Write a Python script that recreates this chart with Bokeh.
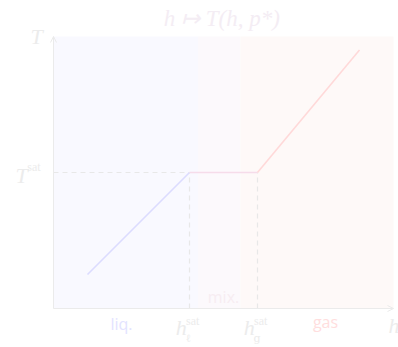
from bokeh.plotting import figure
from bokeh.models import Range1d, Arrow, OpenHead
from bokeh.core.properties import value
from bokeh.embed import file_html
from bokeh.resources import INLINE

# ---- data ----
h_sat_l = 4.0
h_sat_g = 6.0
T_sat = 4.0
h_max = 10.0
T_max = 8.0

h_liq = [1.0, h_sat_l]
T_liq = [1.0, T_sat]
h_mix = [h_sat_l, h_sat_g]
T_mix = [T_sat, T_sat]
h_gas = [h_sat_g, 9.0]
T_gas = [T_sat, 7.6]

band_left = [0.0, 4.25, 5.5]
band_right = [4.25, 5.5, h_max]
band_colors = ["#f9f9ff", "#fcf9fc", "#fef9f8"]

region_names = ["liq.", "mix.", "gas"]
region_centers = [h_sat_l / 2, (h_sat_l + h_sat_g) / 2, (h_sat_g + h_max) / 2]

# ---- layout ----
W, H = 398, 347
ox, oy = 53, 308          # origin position inside canvas (px)
ppu = 34.0                # pixels per data unit
p = figure(width=W, height=H, output_backend="svg", toolbar_location=None,
           x_range=Range1d(-ox / ppu, (W - ox) / ppu),
           y_range=Range1d(-(H - oy) / ppu, oy / ppu),
           min_border=0, outline_line_color=None, background_fill_color="white",
           border_fill_color="white")
p.xaxis.visible = False
p.yaxis.visible = False
p.grid.visible = False

# shaded regions
p.quad(left=band_left, right=band_right, bottom=0, top=T_max,
       fill_color=band_colors, line_color=None)

# dashed guides
dash_col = "#e8e8e8"
p.line([0, h_sat_l], [T_sat, T_sat], line_color=dash_col, line_dash="5 4", line_width=1.2)
p.line([h_sat_l, h_sat_l], [0, T_sat], line_color=dash_col, line_dash="5 4", line_width=1.2)
p.line([h_sat_g, h_sat_g], [0, T_sat], line_color=dash_col, line_dash="5 4", line_width=1.2)

# curve
p.line(h_liq, T_liq, line_color="#dcdcff", line_width=1.6)
p.line(h_mix, T_mix, line_color="#f6dcea", line_width=1.6)
p.line(h_gas, T_gas, line_color="#ffd9d9", line_width=1.6)

# axes with arrows
ax_col = "#ebebeb"
p.add_layout(Arrow(x_start=0, y_start=0, x_end=h_max, y_end=0, line_color=ax_col,
                   line_width=1, end=OpenHead(size=6, line_color=ax_col, line_width=1)))
p.add_layout(Arrow(x_start=0, y_start=0, x_end=0, y_end=T_max, line_color=ax_col,
                   line_width=1, end=OpenHead(size=6, line_color=ax_col, line_width=1)))

serif = value("Liberation Serif")
sans = value("Open Sans")
lab_col = "#ececec"

# title
p.text(x=[h_max / 2 - 0.05], y=[8.52], text=["h ↦ T(h, p*)"], text_font=serif,
       text_font_style="italic", text_font_size="23px", text_color="#f4edf4",
       text_align="center", text_baseline="middle")

# axis names
p.text(x=[-0.5], y=[T_max], text=["T"], text_font=serif, text_font_style="italic",
       text_font_size="22px", text_color=lab_col, text_align="center", text_baseline="middle")
p.text(x=[9.85], y=[-0.5], text=["h"], text_font=serif, text_font_style="italic",
       text_font_size="22px", text_color=lab_col, text_align="left", text_baseline="middle")

# T^sat
p.text(x=[-0.76], y=[T_sat - 0.09], text=["T"], text_font=serif, text_font_style="italic",
       text_font_size="22px", text_color=lab_col, text_align="right", text_baseline="middle")
p.text(x=[-0.77], y=[T_sat + 0.17], text=["sat"], text_font=serif,
       text_font_size="12px", text_color=lab_col, text_align="left", text_baseline="middle")

# h_l^sat, h_g^sat
for hv, sub in [(h_sat_l, "ℓ"), (h_sat_g, "g")]:
    p.text(x=[hv - 0.08], y=[-0.57], text=["h"], text_font=serif, text_font_style="italic",
           text_font_size="22px", text_color=lab_col, text_align="right", text_baseline="middle")
    p.text(x=[hv - 0.1], y=[-0.36], text=["sat"], text_font=serif,
           text_font_size="12px", text_color=lab_col, text_align="left", text_baseline="middle")
    p.text(x=[hv - 0.12], y=[-0.88], text=[sub], text_font=value("DejaVu Serif"),
           text_font_size="11px", text_color=lab_col, text_align="left", text_baseline="middle")

# region names
p.text(x=[region_centers[0]], y=[-0.47], text=[region_names[0]], text_font=sans,
       text_font_size="16px", text_color="#e3e3ff", text_align="center", text_baseline="middle")
p.text(x=[region_centers[1]], y=[0.35], text=[region_names[1]], text_font=sans,
       text_font_size="16px", text_color="#f7edf2", text_align="center", text_baseline="middle")
p.text(x=[region_centers[2]], y=[-0.41], text=[region_names[2]], text_font=sans,
       text_font_size="16px", text_color="#ffdede", text_align="center", text_baseline="middle")

open("out.html", "w").write(file_html(p, INLINE))
